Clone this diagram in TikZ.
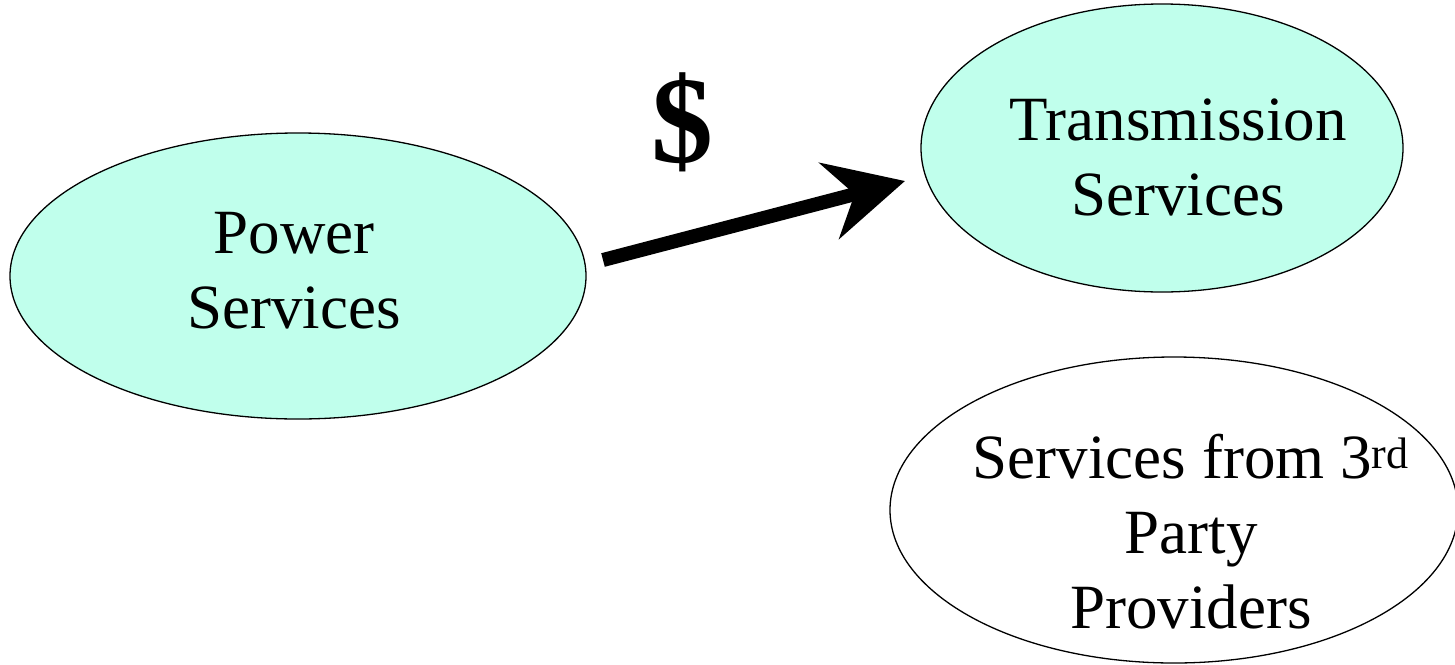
\documentclass[tikz,border=0pt]{standalone}
\usepackage{fontspec}
\setmainfont{Liberation Serif}
\usetikzlibrary{shapes.geometric,arrows.meta}
\definecolor{paleaqua}{RGB}{192,255,236}
\tikzset{
  service/.style={ellipse, draw=black, line width=1.3pt, inner sep=0pt},
  shadedsvc/.style={service, fill=paleaqua},
  plainsvc/.style={service, fill=white},
  % anchored on the baseline of the last line
  caption/.style={anchor=base, align=center, inner sep=0pt,
    font=\fontsize{63}{75}\selectfont},
  flow/.style={line width=14pt, -{Stealth[length=78pt,width=78pt,inset=26pt]}}
}
\begin{document}
\begin{tikzpicture}[x=1pt,y=-1pt]
\useasboundingbox (0,0) rectangle (1455,664);

% service ellipses
\node[shadedsvc, minimum width=576pt, minimum height=286pt] (power) at (298,276) {};
\node[shadedsvc, minimum width=482pt, minimum height=288pt] (trans) at (1162,148) {};
\node[plainsvc, minimum width=568pt, minimum height=306pt] (third) at (1174,510) {};

% their captions
\node[caption] (powertext) at (294,328) {Power\\Services};
\node[caption] (transtext) at (1178,215) {Transmission\\Services};
\node[caption] (thirdtext) at (1191,628) {Services from 3\textsuperscript{rd}\\Party\\Providers};

% payment flow
\coordinate (flowstart) at (603,260);
\coordinate (flowend) at (905,181);
\draw[flow] (flowstart) -- (flowend);
\node[inner sep=0pt, font=\fontsize{124}{124}\selectfont\bfseries] (dollar) at (682,122) {\$};
\end{tikzpicture}
\end{document}
